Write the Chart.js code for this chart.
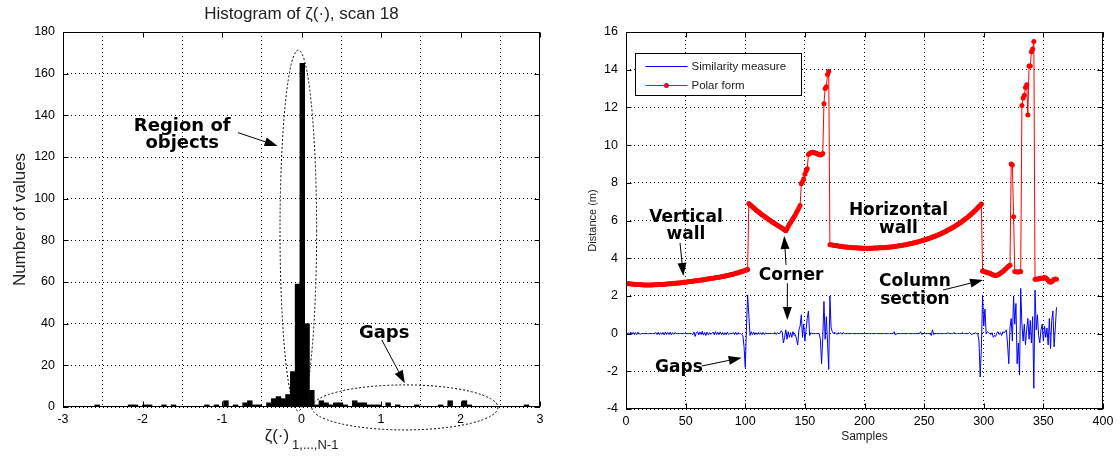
<!DOCTYPE html>
<html>
<head>
<meta charset="utf-8">
<script src="https://cdn.jsdelivr.net/npm/chart.js@4.4.0/dist/chart.umd.min.js"></script>
<style>
  html, body { margin: 0; padding: 0; background: #fff; }
  .panel { position: absolute; top: 0; width: 560px; height: 457px; }
</style>
</head>
<body>
<div class="panel" style="left:0"><canvas id="histChart"></canvas></div>
<div class="panel" style="left:560px"><canvas id="scanChart"></canvas></div>
<script>
// ---- left: histogram of zeta, scan 18 ----
const binStart = -2.6;
const binWidth = 0.06;
const counts = [
  1, 0, 0, 0, 0, 0, 0, 1, 1, 0,
  1, 1, 0, 0, 1, 0, 1, 0, 0, 0,
  0, 0, 0, 1, 0, 1, 0, 3, 0, 1,
  0, 2, 3, 1, 1, 0, 2, 4, 5, 4,
  6, 17, 59, 165, 40, 8, 1, 3, 2, 1,
  2, 2, 1, 0, 3, 2, 2, 1, 1, 1,
  0, 2, 0, 1, 0, 0, 0, 1, 0, 0,
  0, 0, 1, 0, 3, 0, 0, 3, 1, 0,
  0, 0, 0, 0, 0, 0, 0, 0, 0, 0,
  1
];

// ---- right: similarity measure and polar form per sample ----
const similarity = [
  0, 0, 0.05, -0.05, 0.08, -0.04, 0.06, -0.05, 0.05, -0.06,
  0.07, 0, -0.03, 0, 0, 0, 0, 0, 0, 0,
  0, 0, 0, 0, 0, 0.06, -0.05, 0.07, -0.06, 0.05,
  -0.04, 0.06, -0.07, 0.08, -0.05, 0.06, -0.05, 0.07, -0.06, 0.05,
  -0.04, 0.06, 0, 0, 0, 0, 0, 0, 0, 0,
  0, 0, 0, 0, 0, 0, -0.06, 0.08, -0.15, 0.06,
  0.10, -0.07, 0.09, -0.05, 0.12, -0.08, 0.06, -0.10, 0.08, -0.06,
  0.05, -0.04, 0, 0.08, -0.06, 0.10, -0.05, 0.07, -0.06, 0.09,
  -0.05, 0.06, -0.07, 0.05, -0.06, 0.08, -0.05, 0, 0, 0,
  0.06, -0.05, 0.07, -0.06, 0.05, 0, 0, -0.05, -0.10, -0.70,
  -1.80, 0.30, 2.05, 1.00, -0.10, 0.10, -0.05, 0.08, -0.06, 0.05,
  -0.05, 0.06, -0.04, 0.05, -0.05, 0.06, -0.05, 0.04, 0, 0,
  0, 0, 0, 0, 0, 0.06, -0.05, 0.05, 0, 0,
  0.15, 0.10, -0.50, -0.20, 0.20, -0.30, 0.10, -0.20, 0.05, -0.20,
  0.10, -0.10, -0.05, -0.30, -0.60, 0.20, 0.40, 1.00, -0.20, 0.50,
  -0.40, 0.20, 0.80, 1.20, -0.10, 0.05, 0, 0, 0, 0,
  0, 0, 0, -0.30, -1.60, -0.20, 1.70, -0.30, 0.90, -0.50,
  -1.90, 2.00, 0.30, 0.10, 0, 0.08, 0, -0.05, 0.05, 0,
  0.05, -0.04, 0.06, 0, 0, 0, 0, 0, 0, 0,
  0, 0, 0, 0, 0, 0, 0, 0, 0, 0,
  0, 0, 0, 0, 0, 0, 0, 0, 0, 0,
  0, 0, 0, 0, 0, 0, 0, 0, 0, 0,
  0, 0, 0, 0, 0, 0.10, -0.08, 0, 0, 0,
  0, 0, 0, 0, 0, 0, 0, 0, 0, 0,
  0, 0, 0, 0, 0, 0, 0, 0.10, -0.05, 0,
  0, 0, 0, 0, 0, 0, -0.10, 0.20, -0.05, 0,
  0, 0, 0, 0, 0, 0, 0, 0, 0, 0,
  0.05, 0, 0, 0, 0, 0.06, 0, 0, 0, 0,
  0, 0, 0.05, 0, 0, 0, 0, 0, 0.06, 0,
  -0.05, 0, 0, 0.05, 0, 0, -0.40, -2.30, -0.80, 2.00,
  0.40, 1.30, 0, 0.10, 0.05, 0, -0.05, 0.05, -0.20, -0.10,
  -0.15, 0.05, 0.10, -0.05, 0.05, -0.10, 0.10, 0.05, 0.10, 0.20,
  -0.60, -1.60, 0.30, 0.80, -0.40, 2.00, 0.50, 1.60, -1.60, -0.50,
  -2.20, 2.40, 0.50, -0.40, 0.50, -0.60, 0.20, 0.80, -0.30, 0.70,
  -0.50, 0.90, -2.90, 2.30, 0.20, 1.00, -0.10, -0.50, 0.20, 0.50,
  -0.40, 0.40, -0.20, 0.30, -0.60, 0.80, -0.80, 0.70, 1.20, -0.70,
  0.30, 1.40
];

const polarForm = [
  2.66, 2.65, 2.65, 2.64, 2.63, 2.63, 2.62, 2.62, 2.61, 2.61,
  2.60, 2.60, 2.59, 2.59, 2.59, 2.58, 2.58, 2.58, 2.58, 2.58,
  2.58, 2.58, 2.58, 2.59, 2.59, 2.59, 2.59, 2.60, 2.60, 2.60,
  2.61, 2.61, 2.62, 2.62, 2.63, 2.63, 2.64, 2.64, 2.65, 2.65,
  2.66, 2.67, 2.67, 2.68, 2.69, 2.69, 2.70, 2.71, 2.72, 2.72,
  2.73, 2.74, 2.75, 2.75, 2.76, 2.77, 2.78, 2.79, 2.80, 2.81,
  2.81, 2.82, 2.83, 2.84, 2.85, 2.86, 2.87, 2.88, 2.89, 2.90,
  2.91, 2.92, 2.93, 2.94, 2.95, 2.96, 2.97, 2.98, 2.99, 3.00,
  3.01, 3.03, 3.04, 3.05, 3.07, 3.08, 3.10, 3.11, 3.13, 3.14,
  3.16, 3.18, 3.19, 3.21, 3.23, 3.25, 3.27, 3.29, 3.31, 3.33,
  3.35, 3.37, 3.40, 6.90, 6.84, 6.78, 6.73, 6.67, 6.62, 6.56,
  6.51, 6.46, 6.41, 6.36, 6.31, 6.26, 6.22, 6.17, 6.13, 6.08,
  6.04, 6.00, 5.95, 5.91, 5.87, 5.83, 5.79, 5.75, 5.71, 5.67,
  5.63, 5.59, 5.55, 5.50, 5.46, 5.55, 5.68, 5.80, 5.90, 6.00,
  6.10, 6.20, 6.31, 6.42, 6.54, 6.66, 6.80, 7.95, 8.05, 8.20,
  8.45, 8.62, 8.75, 9.50, 9.55, 9.60, 9.62, 9.62, 9.60, 9.58,
  9.55, 9.52, 9.50, 9.48, 9.50, 9.55, 12.20, 13.00, 13.10, 13.75,
  13.90, 4.72, 4.71, 4.70, 4.69, 4.68, 4.67, 4.66, 4.65, 4.64,
  4.63, 4.62, 4.61, 4.60, 4.60, 4.59, 4.58, 4.58, 4.57, 4.57,
  4.56, 4.56, 4.55, 4.55, 4.54, 4.54, 4.54, 4.54, 4.53, 4.53,
  4.53, 4.53, 4.53, 4.53, 4.53, 4.53, 4.53, 4.53, 4.54, 4.54,
  4.54, 4.54, 4.55, 4.55, 4.55, 4.56, 4.56, 4.57, 4.57, 4.58,
  4.58, 4.59, 4.60, 4.60, 4.61, 4.62, 4.63, 4.64, 4.65, 4.66,
  4.67, 4.68, 4.69, 4.70, 4.71, 4.72, 4.73, 4.75, 4.76, 4.78,
  4.79, 4.81, 4.82, 4.84, 4.85, 4.87, 4.89, 4.91, 4.93, 4.95,
  4.96, 4.98, 5.00, 5.03, 5.05, 5.07, 5.09, 5.12, 5.14, 5.17,
  5.19, 5.22, 5.25, 5.27, 5.30, 5.33, 5.36, 5.39, 5.42, 5.45,
  5.49, 5.52, 5.56, 5.59, 5.63, 5.67, 5.71, 5.75, 5.79, 5.83,
  5.87, 5.91, 5.96, 6.01, 6.05, 6.10, 6.15, 6.20, 6.26, 6.31,
  6.37, 6.43, 6.49, 6.55, 6.61, 6.67, 6.74, 6.80, 6.87, 3.32,
  3.30, 3.28, 3.26, 3.24, 3.22, 3.20, 3.17, 3.14, 3.11, 3.09,
  3.08, 3.09, 3.12, 3.16, 3.20, 3.25, 3.30, 3.35, 3.41, 3.47,
  3.53, 3.58, 3.62, 9.00, 8.95, 6.20, 3.30, 3.28, 3.27, 3.27,
  3.28, 3.30, 12.10, 12.50, 12.65, 13.05, 13.20, 11.60, 14.20, 14.20,
  14.95, 15.10, 15.50, 2.88, 2.88, 2.90, 2.90, 2.92, 2.93, 2.93,
  2.95, 2.97, 2.95, 2.90, 2.82, 2.75, 2.72, 2.75, 2.82, 2.88,
  2.90, 2.88
];

// annotation text / arrows / dashed ellipses, in data units
const histNotes = {
  font: 'bold 18px "DejaVu Sans"',
  texts: [
    { x: -1.5, y: 132.5, text: 'Region of' },
    { x: -1.5, y: 124.3, text: 'objects' },
    { x: 1.04, y: 33.1, text: 'Gaps' }
  ],
  arrows: [
    { from: [-0.8, 131.7], to: [-0.3, 125.3] },
    { from: [1.01, 32.2], to: [1.3, 11.4] }
  ],
  ellipses: [
    { x: -0.04, y: 84.7, rx: 0.23, ry: 86.6 },
    { x: 1.3, y: -0.2, rx: 1.17, ry: 10.8 }
  ]
};

const scanNotes = {
  font: 'bold 17px "DejaVu Sans"',
  texts: [
    { x: 50.3, y: 5.94, text: 'Vertical' },
    { x: 50.3, y: 5.02, text: 'wall' },
    { x: 138.4, y: 2.84, text: 'Corner' },
    { x: 228.5, y: 6.29, text: 'Horizontal' },
    { x: 228.5, y: 5.34, text: 'wall' },
    { x: 242.3, y: 2.53, text: 'Column' },
    { x: 242.3, y: 1.57, text: 'section' },
    { x: 44.4, y: -2.04, text: 'Gaps' }
  ],
  arrows: [
    { from: [45.3, 4.81], to: [48.1, 3.06] },
    { from: [134.2, 3.64], to: [132.7, 5.18] },
    { from: [135.3, 2.67], to: [135.3, 0.72] },
    { from: [265.8, 2.31], to: [299.4, 2.84] },
    { from: [63.5, -1.72], to: [97.0, -1.28] }
  ],
  ellipses: []
};

Chart.defaults.font.family = '"Liberation Sans", Arial, sans-serif';
Chart.defaults.color = '#000';

function drawArrow(ctx, x1, y1, x2, y2) {
  const ang = Math.atan2(y2 - y1, x2 - x1);
  const len = 13, half = 4.5;
  const bx = x2 - len * Math.cos(ang), by = y2 - len * Math.sin(ang);
  ctx.beginPath();
  ctx.moveTo(x1, y1);
  ctx.lineTo(bx, by);
  ctx.stroke();
  ctx.beginPath();
  ctx.moveTo(x2, y2);
  ctx.lineTo(bx + half * Math.sin(ang), by - half * Math.cos(ang));
  ctx.lineTo(bx - half * Math.sin(ang), by + half * Math.cos(ang));
  ctx.closePath();
  ctx.fill();
}

function notesPlugin(notes) {
  return {
    id: 'notes',
    afterDraw(chart) {
      const ctx = chart.ctx;
      const px = v => chart.scales.x.getPixelForValue(v);
      const py = v => chart.scales.y.getPixelForValue(v);
      ctx.save();
      ctx.fillStyle = '#000';
      ctx.strokeStyle = '#000';
      notes.ellipses.forEach(e => {
        const cx = px(e.x), cy = py(e.y);
        const rx = Math.abs(px(e.x + e.rx) - cx), ry = Math.abs(py(e.y + e.ry) - cy);
        ctx.setLineDash([2, 2]);
        ctx.lineWidth = 1;
        ctx.beginPath();
        ctx.ellipse(cx, cy, rx, ry, 0, 0, Math.PI * 2);
        ctx.stroke();
      });
      ctx.setLineDash([]);
      ctx.lineWidth = 1;
      notes.arrows.forEach(a => drawArrow(ctx, px(a.from[0]), py(a.from[1]), px(a.to[0]), py(a.to[1])));
      ctx.font = notes.font;
      ctx.textAlign = 'center';
      ctx.textBaseline = 'alphabetic';
      notes.texts.forEach(t => ctx.fillText(t.text, px(t.x), py(t.y)));
      ctx.restore();
    }
  };
}

// matlab-like box with inward ticks
const framePlugin = {
  id: 'frame',
  afterDraw(chart) {
    const { ctx, chartArea: a } = chart;
    const L = Math.round(a.left) + 0.5, R = Math.round(a.right) - 0.5;
    const T = Math.round(a.top) + 0.5, B = Math.round(a.bottom) - 0.5;
    ctx.save();
    ctx.strokeStyle = '#000';
    ctx.lineWidth = 1;
    ctx.setLineDash([]);
    ctx.strokeRect(L, T, R - L, B - T);
    ctx.beginPath();
    chart.scales.x.ticks.forEach(t => {
      const x = Math.round(chart.scales.x.getPixelForValue(t.value)) + 0.5;
      ctx.moveTo(x, B); ctx.lineTo(x, B - 5);
      ctx.moveTo(x, T); ctx.lineTo(x, T + 5);
    });
    chart.scales.y.ticks.forEach(t => {
      const y = Math.round(chart.scales.y.getPixelForValue(t.value)) + 0.5;
      ctx.moveTo(L, y); ctx.lineTo(L + 5, y);
      ctx.moveTo(R, y); ctx.lineTo(R - 5, y);
    });
    ctx.stroke();
    ctx.restore();
  }
};

// x label with subscript for the histogram
const zetaLabel = {
  id: 'zetaLabel',
  afterDraw(chart) {
    const { ctx, chartArea: a } = chart;
    const main = 'ζ(·)', sub = '1,...,N-1';
    ctx.save();
    ctx.fillStyle = '#222';
    ctx.textAlign = 'left';
    ctx.textBaseline = 'alphabetic';
    ctx.font = '17px "Liberation Sans"';
    const w1 = ctx.measureText(main).width;
    ctx.font = '13px "Liberation Sans"';
    const w2 = ctx.measureText(sub).width;
    const x0 = (a.left + a.right) / 2 - (w1 + 3 + w2) / 2;
    ctx.font = '17px "Liberation Sans"';
    ctx.fillText(main, x0, 441);
    ctx.font = '13px "Liberation Sans"';
    ctx.fillText(sub, x0 + w1 + 3, 449);
    ctx.restore();
  }
};

// legend drawn in a box inside the plot
const boxLegend = {
  id: 'boxLegend',
  afterDraw(chart) {
    const { ctx, chartArea: a } = chart;
    const x = Math.round(a.left + 9) + 0.5, y = Math.round(a.top + 21) + 0.5;
    ctx.save();
    ctx.fillStyle = '#fff';
    ctx.fillRect(x, y, 166, 42);
    ctx.strokeStyle = '#000';
    ctx.lineWidth = 1;
    ctx.strokeRect(x, y, 166, 42);
    ctx.font = '11.5px "Liberation Sans"';
    ctx.textBaseline = 'middle';
    chart.data.datasets.forEach((ds, i) => {
      const ly = y + 13 + i * 19;
      ctx.strokeStyle = ds.borderColor;
      ctx.beginPath();
      ctx.moveTo(x + 10, ly);
      ctx.lineTo(x + 52, ly);
      ctx.stroke();
      if (ds.pointRadius > 0) {
        ctx.fillStyle = ds.pointBackgroundColor;
        ctx.beginPath();
        ctx.arc(x + 31, ly, 2.5, 0, Math.PI * 2);
        ctx.fill();
      }
      ctx.fillStyle = '#222';
      ctx.fillText(ds.label, x + 56, ly);
    });
    ctx.restore();
  }
};

new Chart(document.getElementById('histChart'), {
  type: 'bar',
  data: {
    datasets: [{
      label: 'zeta',
      data: counts.map((c, i) => ({ x: binStart + binWidth * (i + 0.5), y: c })),
      backgroundColor: '#000',
      borderWidth: 0,
      barPercentage: 1,
      categoryPercentage: 1
    }]
  },
  options: {
    responsive: true,
    maintainAspectRatio: false,
    animation: false,
    layout: { padding: { left: 0, right: 20, top: 0, bottom: 0 } },
    plugins: {
      legend: { display: false },
      tooltip: { enabled: false },
      title: {
        display: true,
        text: 'Histogram of ζ(·), scan 18',
        fullSize: false,
        color: '#222',
        font: { size: 17, weight: 'normal' },
        padding: { top: 4, bottom: 7.6 }
      }
    },
    scales: {
      x: {
        type: 'linear',
        offset: false,
        min: -3,
        max: 3,
        ticks: { stepSize: 1, padding: 5, font: { size: 12.5 }, maxRotation: 0 },
        grid: { color: '#000', drawTicks: false },
        border: { display: false, dash: [1, 3] },
        afterFit: s => { s.height = 50; }
      },
      y: {
        min: 0,
        max: 180,
        ticks: { stepSize: 20, padding: 8, font: { size: 12.5 } },
        grid: { color: '#000', drawTicks: false },
        border: { display: false, dash: [1, 3] },
        title: { display: true, text: 'Number of values', color: '#222', font: { size: 17 }, padding: { top: 10, bottom: 0 } },
        afterFit: s => { s.width = 63; }
      }
    }
  },
  plugins: [framePlugin, zetaLabel, notesPlugin(histNotes)]
});

new Chart(document.getElementById('scanChart'), {
  type: 'line',
  data: {
    datasets: [{
      label: 'Similarity measure',
      data: similarity.map((v, i) => ({ x: i, y: v })),
      borderColor: '#0000ff',
      borderWidth: 1,
      pointRadius: 0,
      tension: 0
    }, {
      label: 'Polar form',
      data: polarForm.map((v, i) => ({ x: i, y: v })),
      borderColor: '#ff0000',
      borderWidth: 1,
      pointRadius: 2.5,
      pointBackgroundColor: '#ff0000',
      pointBorderWidth: 0,
      tension: 0
    }]
  },
  options: {
    responsive: true,
    maintainAspectRatio: false,
    animation: false,
    layout: { padding: { left: 0, right: 17, top: 32, bottom: 0 } },
    plugins: {
      legend: { display: false },
      tooltip: { enabled: false }
    },
    scales: {
      x: {
        type: 'linear',
        min: 0,
        max: 400,
        ticks: { stepSize: 50, padding: 5, font: { size: 12.5 }, maxRotation: 0 },
        grid: { color: '#000', drawTicks: false },
        border: { display: false, dash: [1, 3] },
        title: { display: true, text: 'Samples', color: '#222', font: { size: 12 }, padding: { top: 0, bottom: 13 } },
        afterFit: s => { s.height = 48; }
      },
      y: {
        min: -4,
        max: 16,
        ticks: { stepSize: 2, padding: 8, font: { size: 12.5 } },
        grid: { color: '#000', drawTicks: false },
        border: { display: false, dash: [1, 3] },
        title: { display: true, text: 'Distance (m)', color: '#222', font: { size: 11 }, padding: { top: 26, bottom: 0 } },
        afterFit: s => { s.width = 66; }
      }
    }
  },
  plugins: [framePlugin, boxLegend, notesPlugin(scanNotes)]
});
</script>
</body>
</html>
